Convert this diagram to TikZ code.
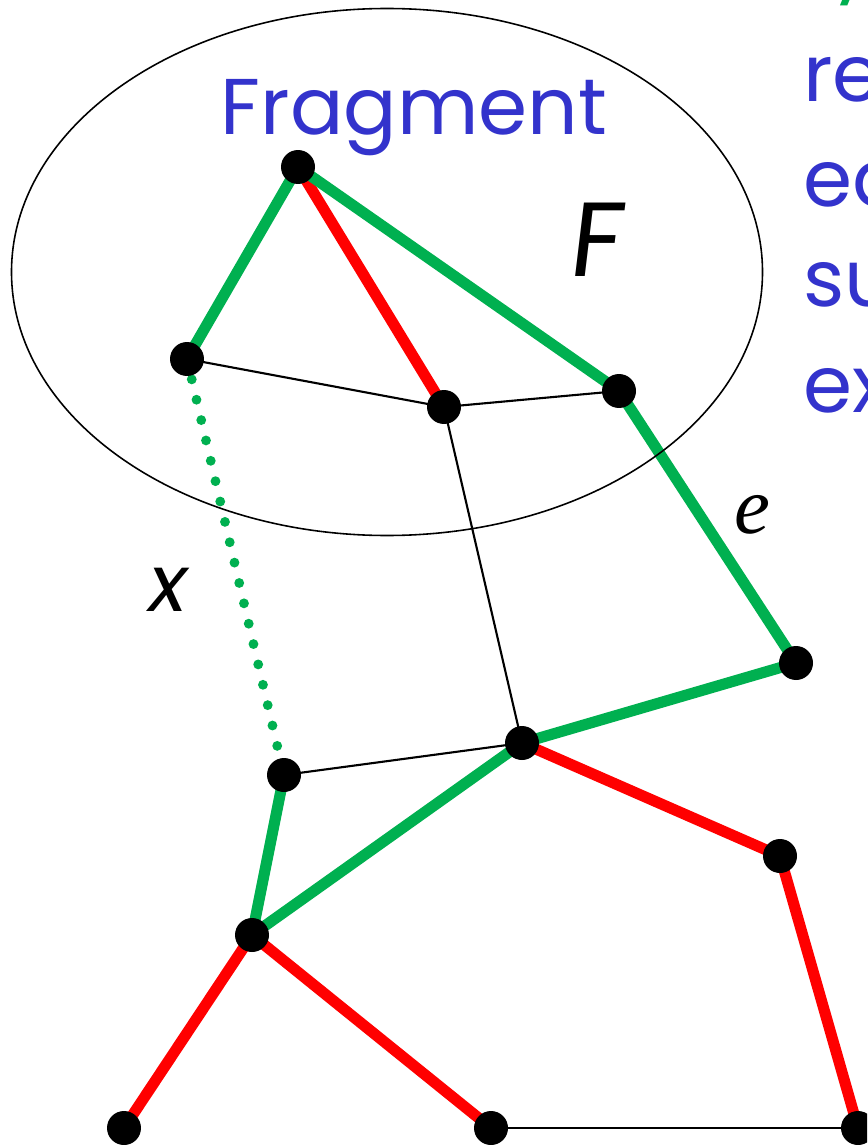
\documentclass[tikz,border=0pt]{standalone}
\usepackage{fontspec}
\setmainfont{Poppins}
\newfontfamily\labelserif{Liberation Serif}
\usepackage{tikz}
\usetikzlibrary{backgrounds}
\definecolor{treegreen}{HTML}{00B050}
\definecolor{cyclered}{HTML}{FF0000}
\definecolor{slideblue}{HTML}{3333CC}

\begin{document}
\begin{tikzpicture}[x=0.02cm, y=-0.02cm,
    vertex/.style={circle, fill=black, inner sep=0pt, minimum size=0.68cm},
    treeedge/.style={treegreen, line width=6.3pt},
    redge/.style={cyclered, line width=6.3pt},
    plainedge/.style={black, line width=1.2pt},
    outedge/.style={treegreen, line width=5.6pt, line cap=round,
      dash pattern=on 0pt off 11.9pt},
    bigtext/.style={font=\fontsize{45}{54}\selectfont, inner sep=0pt},
  ]
  \useasboundingbox (0,0) rectangle (867,1145);
  \clip (0,0) rectangle (867,1145);

  % fragment F
  \draw[line width=0.9pt] (387,272) ellipse [x radius=375.5, y radius=263.5];
  \node[bigtext, text=slideblue, anchor=base] (fraglabel) at (414,135) {Fragment};
  \node[font=\fontsize{60}{66}\selectfont, inner sep=0pt, xslant=0.12] (flabel) at (598,240) {F};

  % side text, cut off by the slide
  \node[bigtext, text=slideblue, anchor=base west] (line1) at (803,102) {re};
  \node[bigtext, text=slideblue, anchor=base west] (line2) at (803,207) {ed};
  \node[bigtext, text=slideblue, anchor=base west] (line3) at (803,307) {su};
  \node[bigtext, text=slideblue, anchor=base west] (line4) at (803,412) {ex};
  \node[bigtext, text=treegreen, anchor=base west] (line0) at (830,-14) {y};

  % vertices
  \node[vertex] (top) at (298,167) {};
  \node[vertex] (fl) at (187,359) {};
  \node[vertex] (fm) at (444,407) {};
  \node[vertex] (fr) at (619,391) {};
  \node[vertex] (ro) at (796,663) {};
  \node[vertex] (hub) at (522,743) {};
  \node[vertex] (lo) at (284,775) {};
  \node[vertex] (rl) at (780,856) {};
  \node[vertex] (ll) at (252,935) {};
  \node[vertex] (bl) at (124,1128) {};
  \node[vertex] (bm) at (491,1128) {};
  \node[vertex] (br) at (858,1128) {};

  \begin{scope}[on background layer]
    \draw[treeedge] (top.center) -- (fl.center);
    \draw[redge] (top.center) -- (fm.center);
    \draw[treeedge] (top.center) -- (fr.center);
    \draw[plainedge] (fl.center) -- (fm.center);
    \draw[plainedge] (fm.center) -- (fr.center);
    \draw[treeedge] (fr.center) -- (ro.center);
    \draw[plainedge] (fm.center) -- (hub.center);
    \draw[treeedge] (ro.center) -- (hub.center);
    \draw[plainedge] (hub.center) -- (lo.center);
    \draw[redge] (hub.center) -- (rl.center);
    \draw[redge] (rl.center) -- (br.center);
    \draw[treeedge] (lo.center) -- (ll.center);
    \draw[treeedge] (hub.center) -- (ll.center);
    \draw[redge] (ll.center) -- (bl.center);
    \draw[redge] (ll.center) -- (bm.center);
    \draw[plainedge] (bm.center) -- (br.center);
    \draw[outedge] (fl.center) -- (lo.center);
  \end{scope}

  % edge labels
  \node[font=\fontsize{45}{54}\selectfont\itshape, inner sep=0pt] (xlabel) at (168,590) {x};
  \node[font=\fontsize{46}{54}\selectfont\labelserif\itshape, inner sep=0pt] (elabel) at (752,515) {e};
\end{tikzpicture}
\end{document}
